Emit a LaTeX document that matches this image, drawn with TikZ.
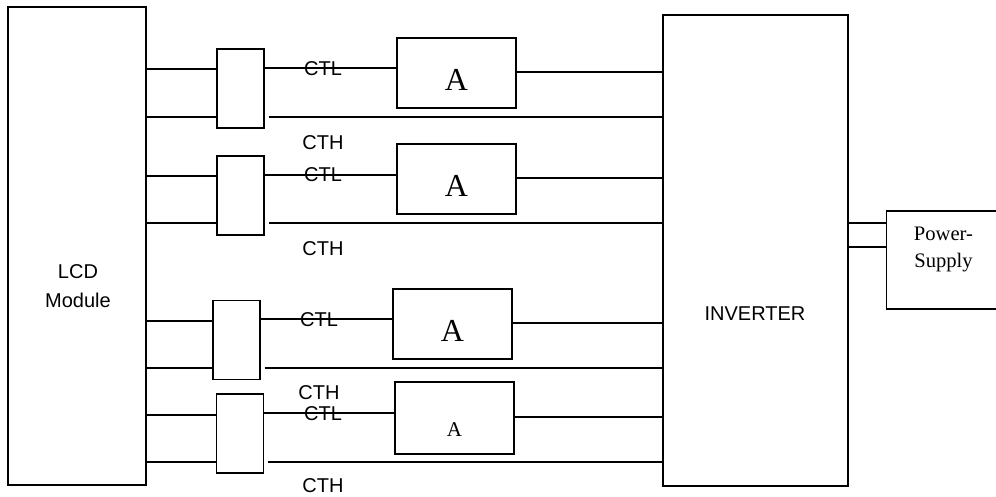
\documentclass[tikz,border=0pt]{standalone}
\usepackage{fontspec}
\usepackage{tikz}
\newfontfamily\arialfont{Liberation Sans}
\newfontfamily\timesfont{Liberation Serif}
\tikzset{
  blk/.style={draw, line width=0.75pt, inner sep=0pt},
  sw/.style={blk, minimum width=23.5pt, minimum height=39.5pt},
  amp/.style={blk, minimum width=59.5pt, minimum height=35pt,
    font=\timesfont\fontsize{16}{16}\selectfont, text height=17.5pt, text depth=0pt},
  sig/.style={font=\arialfont\fontsize{10}{14.5}\selectfont, inner sep=0pt, align=center},
  wire/.style={line width=0.75pt}
}
\begin{document}
\begin{tikzpicture}[x=0.5pt, y=-0.5pt]
        \useasboundingbox (0,0) rectangle (996,497);
        \node[blk, minimum width=69pt, minimum height=239pt] (lcd) at (77,246) {};
        \node[sig] (lcdtxt) at (78,286) {LCD\\Module};
        \node[blk, minimum width=92.5pt, minimum height=235.5pt] (inv) at (755.5,250.5) {};
        \node[sig] (invtxt) at (755,313.5) {INVERTER};
        \node[blk, minimum width=57pt, minimum height=49pt] (ps) at (943.5,260) {};
        \node[font=\timesfont\fontsize{10.3}{13.5}\selectfont, inner sep=0pt, align=center] (pstxt) at (943.5,249) {Power-\\Supply};
        \node[sw] (sw1) at (240.5,88.5) {};
        \node[sw] (sw2) at (240.5,195.5) {};
        \node[sw] (sw3) at (236.5,340) {};
        \node[sw] (sw4) at (240,433.5) {};
        \node[amp] (a1) at (456.5,73) {A};
        \node[amp] (a2) at (456.5,179) {A};
        \node[amp] (a3) at (452.5,324) {A};
        \node[amp, minimum height=36pt, font=\timesfont\fontsize{10.5}{10.5}\selectfont, text height=18.7pt] (a4) at (454.5,418) {A};
        \draw[wire] (lcd.east |- 0,69) -- (sw1.west |- 0,69);
        \draw[wire] (lcd.east |- 0,117) -- (sw1.west |- 0,117);
        \draw[wire] (sw1.east |- 0,68) -- (a1.west |- 0,68);
        \draw[wire] (a1.east |- 0,72) -- (inv.west |- 0,72);
        \draw[wire, shorten <=2pt] (sw1.east |- 0,117) -- (inv.west |- 0,117);
        \draw[wire] (lcd.east |- 0,176) -- (sw2.west |- 0,176);
        \draw[wire] (lcd.east |- 0,223) -- (sw2.west |- 0,223);
        \draw[wire] (sw2.east |- 0,175) -- (a2.west |- 0,175);
        \draw[wire] (a2.east |- 0,178) -- (inv.west |- 0,178);
        \draw[wire, shorten <=2pt] (sw2.east |- 0,223) -- (inv.west |- 0,223);
        \draw[wire] (lcd.east |- 0,321) -- (sw3.west |- 0,321);
        \draw[wire] (lcd.east |- 0,368) -- (sw3.west |- 0,368);
        \draw[wire] (sw3.east |- 0,319) -- (a3.west |- 0,319);
        \draw[wire] (a3.east |- 0,323) -- (inv.west |- 0,323);
        \draw[wire, shorten <=2pt] (sw3.east |- 0,368) -- (inv.west |- 0,368);
        \draw[wire] (lcd.east |- 0,415) -- (sw4.west |- 0,415);
        \draw[wire] (lcd.east |- 0,462) -- (sw4.west |- 0,462);
        \draw[wire] (sw4.east |- 0,413) -- (a4.west |- 0,413);
        \draw[wire] (a4.east |- 0,417) -- (inv.west |- 0,417);
        \draw[wire, shorten <=2pt] (sw4.east |- 0,462) -- (inv.west |- 0,462);
        \draw[wire] (inv.east |- 0,223) -- (ps.west |- 0,223);
        \draw[wire] (inv.east |- 0,247) -- (ps.west |- 0,247);
        \node[sig] (ctl1) at (323,69) {CTL};
        \node[sig] (cth1) at (323,143) {CTH};
        \node[sig] (ctl2) at (323,175) {CTL};
        \node[sig] (cth2) at (323,249) {CTH};
        \node[sig] (ctl3) at (319,320) {CTL};
        \node[sig] (cth3) at (319,393) {CTH};
        \node[sig] (ctl4) at (323,414) {CTL};
        \node[sig] (cth4) at (323,486) {CTH};
    \end{tikzpicture}
\end{document}
